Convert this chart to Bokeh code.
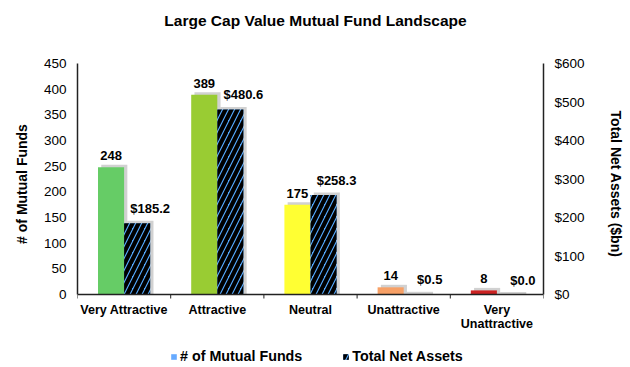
from bokeh.plotting import figure
from bokeh.models import (Range1d, LinearAxis, FixedTicker, Legend, LegendItem,
                          ColumnDataSource, LabelSet, Label, Span)
from bokeh.core.properties import value
from bokeh.transform import dodge
from bokeh.embed import file_html
from bokeh.resources import INLINE

categories = ["Very Attractive", "Attractive", "Neutral", "Unattractive", "Very\nUnattractive"]
fund_counts = [248, 389, 175, 14, 8]
net_assets = [185.2, 480.6, 258.3, 0.5, 0.0]
bar_colors = ["#66CC66", "#99CC33", "#FFFF33", "#F7A066", "#CC2222"]
left_ticks = [0, 50, 100, 150, 200, 250, 300, 350, 400, 450]
right_ticks = [0, 100, 200, 300, 400, 500, 600]

FONT = "Liberation Sans"
W, H = 630, 367
FRAME_TOP, AXIS_Y = 63, 294           # pixel rows of the top of the value axes and of the zero line
LEFT_MAX, RIGHT_MAX = 450, 600
k_left = (AXIS_Y - FRAME_TOP) / LEFT_MAX
k_right = (AXIS_Y - FRAME_TOP) / RIGHT_MAX

n = len(categories)
x_centers = [i + 0.5 for i in range(n)]

src = ColumnDataSource(dict(
    x=x_centers,
    counts=fund_counts,
    assets=net_assets,
    color=bar_colors,
    count_shadow=[v + 2.5 / k_left for v in fund_counts],
    asset_shadow=[v + 2.5 / k_right for v in net_assets],
    count_label=[str(v) for v in fund_counts],
    asset_label=["$%.1f" % v for v in net_assets],
))
# category names, one row per text line so that each line is centred
line_x, line_text, line_off = [], [], []
for xc, cat in zip(x_centers, categories):
    for j, part in enumerate(cat.split("\n")):
        line_x.append(xc)
        line_text.append(part)
        line_off.append(-8 - 14 * j)
cat_src = ColumnDataSource(dict(x=line_x, text=line_text, yoff=line_off))
tick_src = ColumnDataSource(dict(x=list(range(n + 1))))
dummy_src = ColumnDataSource(dict(x=[-10], top=[0]))

p = figure(width=W, height=H, title=None,
           x_range=Range1d(0, n),
           y_range=Range1d(-(H - AXIS_Y) / k_left, LEFT_MAX + FRAME_TOP / k_left),
           x_axis_location=None, y_axis_location="left",
           output_backend="svg", toolbar_location=None,
           min_border_left=77, min_border_right=87, min_border_top=0, min_border_bottom=0)
p.extra_y_ranges = {"assets": Range1d(-(H - AXIS_Y) / k_right, RIGHT_MAX + FRAME_TOP / k_right)}

p.outline_line_color = None
p.xgrid.visible = False
p.ygrid.visible = False

BW = 0.28
SH = 0.035
# shadows
p.vbar(x=dodge("x", -BW / 2 + SH, range=p.x_range), top="count_shadow", bottom=0, width=BW,
       source=src, fill_color="#999999", fill_alpha=0.45, line_color=None)
p.vbar(x=dodge("x", BW / 2 + SH, range=p.x_range), top="asset_shadow", bottom=0, width=BW,
       source=src, fill_color="#999999", fill_alpha=0.45, line_color=None, y_range_name="assets")

p.vbar(x=dodge("x", -BW / 2, range=p.x_range), top="counts", bottom=0, width=BW,
       source=src, fill_color="color", line_color=None)
hatched = p.vbar(x=dodge("x", BW / 2, range=p.x_range), top="assets", bottom=0, width=BW,
                 source=src, fill_color="#55AAFF", line_color=None, y_range_name="assets",
                 hatch_pattern="right_diagonal_line", hatch_color="#000000",
                 hatch_weight=4.2, hatch_scale=12)
dummy = p.vbar(x="x", top="top", width=0.1, source=dummy_src,
               fill_color="#66AAFF", line_color=None)

ax_color = "#222222"
# category axis (zero line, boundary ticks, category names)
p.add_layout(Span(location=0, dimension="width", line_color=ax_color, line_width=1.5))
p.segment(x0="x", y0=0, x1="x", y1=-4 / k_left, source=tick_src, line_color=ax_color, line_width=1)

lab_kw = dict(text_font=value(FONT), text_font_size="13px", text_font_style="bold",
              text_align="center", text_baseline="bottom", text_color="#000000")
p.add_layout(LabelSet(x=dodge("x", -BW / 2, range=p.x_range), y="counts", text="count_label",
                      source=src, y_offset=7, **lab_kw))
p.add_layout(LabelSet(x=dodge("x", BW / 2, range=p.x_range), y="assets", text="asset_label",
                      source=src, y_offset=7, x_offset=13, y_range_name="assets", **lab_kw))
p.add_layout(LabelSet(x="x", y=0, text="text", source=cat_src, y_offset="yoff",
                      text_font=value(FONT), text_font_size="12.5px", text_font_style="bold",
                      text_align="center", text_baseline="top", text_color="#000000"))

# title
p.add_layout(Label(x=n / 2, y=LEFT_MAX, x_offset=5, y_offset=FRAME_TOP - 20,
                   text="Large Cap Value Mutual Fund Landscape",
                   text_font=FONT, text_font_size="15.5px", text_font_style="bold",
                   text_align="center", text_baseline="middle", text_color="#000000"))

ya = p.yaxis[0]
ya.ticker = FixedTicker(ticks=left_ticks)
ya.bounds = (0, LEFT_MAX)
ya.axis_label = "# of Mutual Funds"

ra = LinearAxis(y_range_name="assets", ticker=FixedTicker(ticks=right_ticks),
                axis_label="Total Net Assets ($bn)", bounds=(0, RIGHT_MAX))
ra.major_label_overrides = {t: "$%d" % t for t in right_ticks}
p.add_layout(ra, "right")

for ax in (ya, ra):
    ax.major_tick_in = 0
    ax.major_tick_out = 0
    ax.minor_tick_in = 0
    ax.minor_tick_out = 0
    ax.axis_line_color = ax_color
    ax.axis_line_width = 1.5
    ax.major_label_text_font = FONT
    ax.major_label_text_font_size = "13.5px"
    ax.major_label_text_color = "#000000"
    ax.major_label_standoff = 11
    ax.axis_label_text_font = FONT
    ax.axis_label_text_font_size = "14px"
    ax.axis_label_text_font_style = "bold"
    ax.axis_label_text_color = "#000000"
ya.axis_label_standoff = 11
ra.axis_label_standoff = 20

legend = Legend(items=[LegendItem(label="# of Mutual Funds", renderers=[dummy]),
                       LegendItem(label="Total Net Assets", renderers=[hatched])],
                orientation="horizontal", location=(93, 3),
                label_text_font=FONT, label_text_font_size="14.3px",
                label_text_font_style="bold", label_text_color="#000000",
                glyph_width=7, glyph_height=7, spacing=40, label_standoff=3,
                border_line_color=None, background_fill_alpha=0,
                padding=4, margin=0)
p.add_layout(legend)

open("out.html", "w").write(file_html(p, INLINE))
